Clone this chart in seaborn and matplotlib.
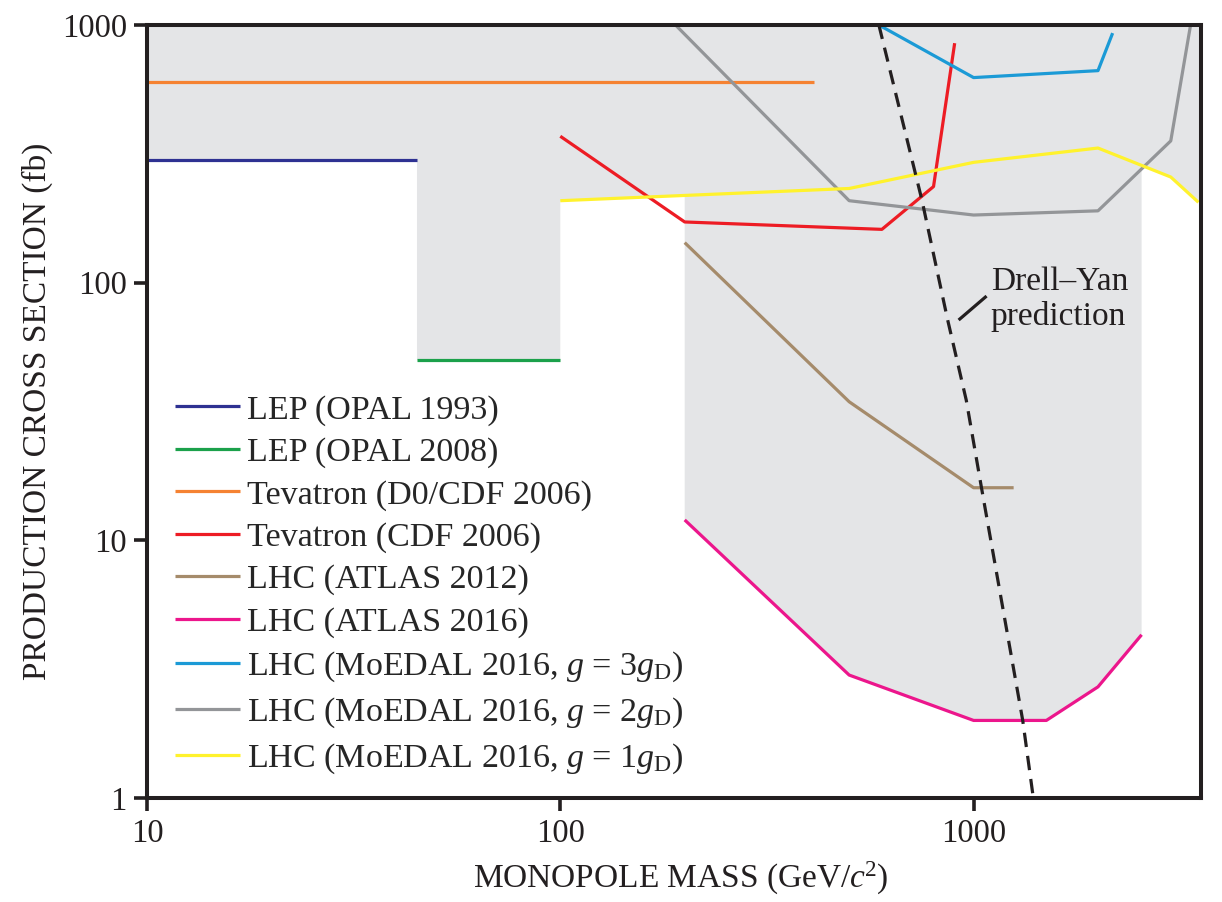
import matplotlib
matplotlib.use("Agg")
import matplotlib.pyplot as plt
import numpy as np
import pandas as pd
import seaborn as sns

# limits (mass in GeV/c^2, cross section in fb)
lep93_m = [10, 45]
lep93_s = [300, 300]
lep08_m = [45, 100]
lep08_s = [50, 50]
tev_d0cdf_m = [10, 410]
tev_d0cdf_s = [600, 600]
tev_cdf_m = [100, 200, 600, 800, 900]
tev_cdf_s = [370, 172, 161, 236, 850]
atlas12_m = [200, 500, 1000, 1250]
atlas12_s = [143, 34.5, 16, 16]
atlas16_m = [200, 500, 1000, 1500, 2000, 2550]
atlas16_s = [12, 3.0, 2.0, 2.0, 2.7, 4.3]
moedal3_m = [590, 1000, 2000, 2170]
moedal3_s = [1000, 625, 665, 930]
moedal2_m = [190, 500, 1000, 2000, 3000, 3350]
moedal2_s = [1000, 208, 183, 190, 355, 1000]
moedal1_m = [100, 500, 1000, 2000, 3000, 3500]
moedal1_s = [208, 232, 293, 333, 257, 205]
dy_m = [590, 750, 865, 960, 1045, 1315, 1395]
dy_s = [1000, 209, 72, 35, 16, 2.0, 1.0]

labels = ["LEP (OPAL 1993)", "LEP (OPAL 2008)", "Tevatron (D0/CDF 2006)",
          "Tevatron (CDF 2006)", "LHC (ATLAS 2012)", "LHC (ATLAS 2016)",
          r"LHC (MoEDAL 2016, $g$ = 3$g_{\mathrm{D}}$)",
          r"LHC (MoEDAL 2016, $g$ = 2$g_{\mathrm{D}}$)",
          r"LHC (MoEDAL 2016, $g$ = 1$g_{\mathrm{D}}$)"]
colors = ["#2E3192", "#1BA14B", "#F58232", "#ED1C24", "#A58B6B",
          "#EC168C", "#1B9AD6", "#939598", "#FFF22D"]
series = [(lep93_m, lep93_s), (lep08_m, lep08_s), (tev_d0cdf_m, tev_d0cdf_s),
          (tev_cdf_m, tev_cdf_s), (atlas12_m, atlas12_s), (atlas16_m, atlas16_s),
          (moedal3_m, moedal3_s), (moedal2_m, moedal2_s), (moedal1_m, moedal1_s)]

xmin, xmax = 10, 3550
ymin, ymax = 1, 1000
ink = "#231F20"

sns.set_theme(style="white")
plt.rcParams['font.family'] = ['Liberation Serif', 'DejaVu Serif']
plt.rcParams['mathtext.fontset'] = 'custom'
plt.rcParams['mathtext.rm'] = 'Liberation Serif'
plt.rcParams['mathtext.it'] = 'Liberation Serif:italic'

fig = plt.figure(figsize=(12.22, 9.02), dpi=100)
ax = fig.add_axes([0.1203, 0.1153, 0.8625, 0.857])
ax.set_xscale('log')
ax.set_yscale('log')


def logi(x, xp, fp):
    return 10 ** np.interp(np.log10(x), np.log10(xp), np.log10(fp))


# excluded region (above the strongest limit)
px = [xmin, xmin, lep93_m[1], lep93_m[1], lep08_m[1], lep08_m[1],
      atlas16_m[0]]
py = [ymax, lep93_s[0], lep93_s[0], lep08_s[0], lep08_s[0],
      logi(lep08_m[1], moedal1_m, moedal1_s),
      logi(atlas16_m[0], moedal1_m, moedal1_s)]
px += atlas16_m
py += atlas16_s
tail = np.geomspace(atlas16_m[-1], xmax, 40)
env = np.minimum(logi(tail, moedal2_m, moedal2_s), logi(tail, moedal1_m, moedal1_s))
px += list(tail) + [xmax]
py += list(env) + [ymax]
ax.fill(px, py, color="#E4E5E7", lw=0, zorder=0)

for (m, s), c, lab in zip(series, colors, labels):
    sns.lineplot(x=m, y=s, color=c, lw=2.3, label=lab, ax=ax,
                 estimator=None, sort=False, solid_capstyle='butt')

sns.lineplot(x=dy_m, y=dy_s, color=ink, lw=2.3, ax=ax,
             estimator=None, sort=False, linestyle=(0, (4.5, 2.8)))
ax.plot([920, 1075], [71.6, 88.7], color=ink, lw=2.3, solid_capstyle='butt')
ax.text(1100, 116, "Drell\u2013Yan\nprediction", fontsize=24, va='top', ha='left',
        linespacing=1.2, color=ink)

ax.set_xlim(xmin, xmax)
ax.set_ylim(ymin, ymax)
ax.minorticks_off()
ax.set_xticks([10, 100, 1000])
ax.set_xticklabels(["10", "100", "1000"])
ax.set_yticks([1, 10, 100, 1000])
ax.set_yticklabels(["1", "10", "100", "1000"])
ax.tick_params(axis='both', direction='out', length=9.5, width=2.6, labelsize=23.5,
               colors=ink, left=True, bottom=True)
ax.tick_params(axis='x', pad=5.5)
ax.tick_params(axis='y', pad=5)
for sp in ax.spines.values():
    sp.set_linewidth(2.9)
    sp.set_color(ink)

ax.set_xlabel(r"MONOPOLE MASS (GeV/$c$$^{2}$)", fontsize=24, color=ink)
ax.set_ylabel("PRODUCTION CROSS SECTION (fb)", fontsize=24, color=ink, labelpad=6.4)
ax.xaxis.set_label_coords(0.5066, -0.1035, transform=ax.transAxes)
ax.xaxis.label.set_va('center')

h, l = ax.get_legend_handles_labels()
ax.legend(h[:9], l[:9], loc='upper left', bbox_to_anchor=(0.0266, 0.522),
          frameon=False, fontsize=24.5, handlelength=1.9, handletextpad=0.22,
          labelspacing=0.336, borderpad=0, borderaxespad=0)

fig.savefig("out.png", dpi=100)
